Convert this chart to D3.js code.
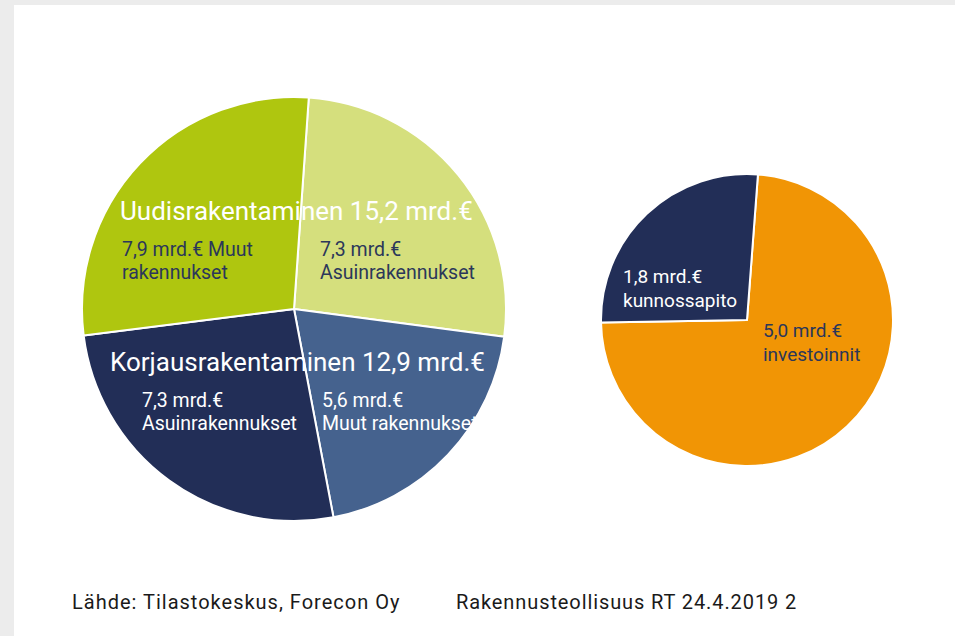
<!DOCTYPE html>
<html>
<head>
<meta charset="utf-8">
<script src="https://cdn.jsdelivr.net/npm/d3@7"></script>
<style>
  body { margin: 0; background: #ececec; }
  text { font-family: Roboto, "DejaVu Sans", sans-serif; }
</style>
</head>
<body>
<script>
// large pie: new construction + renovation (mrd.€)
var bigNames = ["Uudis Asuin", "Korjaus Muut", "Korjaus Asuin", "Uudis Muut"];
var bigValues = [7.3, 5.6, 7.3, 7.9];
var bigColors = ["#d5df7d", "#45628e", "#222e57", "#afc60f"];
var bigLabels = [
    ["7,3 mrd.€", "Asuinrakennukset"],
    ["5,6 mrd.€", "Muut rakennukset"],
    ["7,3 mrd.€", "Asuinrakennukset"],
    ["7,9 mrd.€ Muut", "rakennukset"]
];
var groupTitles = ["Uudisrakentaminen 15,2 mrd.€", "Korjausrakentaminen 12,9 mrd.€"];

// small pie
var smallNames = ["investoinnit", "kunnossapito"];
var smallValues = [5.0, 1.8];
var smallColors = ["#f19505", "#222e57"];
var smallLabels = [["5,0 mrd.€", "investoinnit"], ["1,8 mrd.€", "kunnossapito"]];

var footer = ["Lähde: Tilastokeskus, Forecon Oy", "Rakennusteollisuus RT 24.4.2019 2"];

var width = 955, height = 636;
var darkText = "#2b375a";

var svg = d3.select("body").append("svg")
    .attr("width", width)
    .attr("height", height)
    .style("display", "block");

// page background
svg.append("rect").attr("width", width).attr("height", height).attr("fill", "#ececec");
svg.append("rect").attr("x", 14).attr("y", 5)
    .attr("width", width - 14).attr("height", height - 5).attr("fill", "#ffffff");

var deg = Math.PI / 180;

function drawPie(cx, cy, r, values, colors, start) {
    var pie = d3.pie().sort(null)
        .startAngle(start)
        .endAngle(start + 2 * Math.PI);
    var arc = d3.arc().innerRadius(0).outerRadius(r);
    var g = svg.append("g").attr("transform", "translate(" + cx + "," + cy + ")");
    g.selectAll("path")
        .data(pie(values))
        .enter()
        .append("path")
        .attr("d", arc)
        .attr("fill", function(d, i) { return colors[i]; })
        .attr("stroke", "#ffffff")
        .attr("stroke-width", 2)
        .attr("stroke-linejoin", "round");
    return g;
}

function lines(g, x, y, rows, color, size, lh) {
    var t = g.append("text")
        .attr("x", x).attr("y", y)
        .attr("fill", color)
        .style("font-size", size + "px");
    rows.forEach(function(row, i) {
        t.append("tspan").attr("x", x).attr("y", y + i * lh).text(row);
    });
}

// big pie
var big = drawPie(294, 309, 212, bigValues, bigColors, 4 * deg);
// offsets of label blocks from pie centre
var bigPos = [[26, -53], [28, 98], [-152, 98], [-172, -53]];
var bigTextColor = [darkText, "#ffffff", "#ffffff", darkText];
bigLabels.forEach(function(rows, i) {
    lines(big, bigPos[i][0], bigPos[i][1], rows, bigTextColor[i], 19.5, 23);
});
big.append("text").attr("x", -174).attr("y", -89)
    .attr("fill", "#ffffff").style("font-size", "26px").text(groupTitles[0]);
big.append("text").attr("x", -184).attr("y", 62)
    .attr("fill", "#ffffff").style("font-size", "26px").text(groupTitles[1]);

// small pie
var small = drawPie(747, 320, 146, smallValues, smallColors, 4.3 * deg);
var smallPos = [[16, 17], [-124, -37]];
var smallTextColor = [darkText, "#ffffff"];
smallLabels.forEach(function(rows, i) {
    lines(small, smallPos[i][0], smallPos[i][1], rows, smallTextColor[i], 19, 24);
});

// footer
svg.append("text").attr("x", 72).attr("y", 609)
    .attr("fill", "#1a1a1a").style("font-size", "20px")
    .style("letter-spacing", "1px").text(footer[0]);
svg.append("text").attr("x", 456).attr("y", 609)
    .attr("fill", "#1a1a1a").style("font-size", "20px")
    .style("letter-spacing", "0.9px").text(footer[1]);
</script>
</body>
</html>
